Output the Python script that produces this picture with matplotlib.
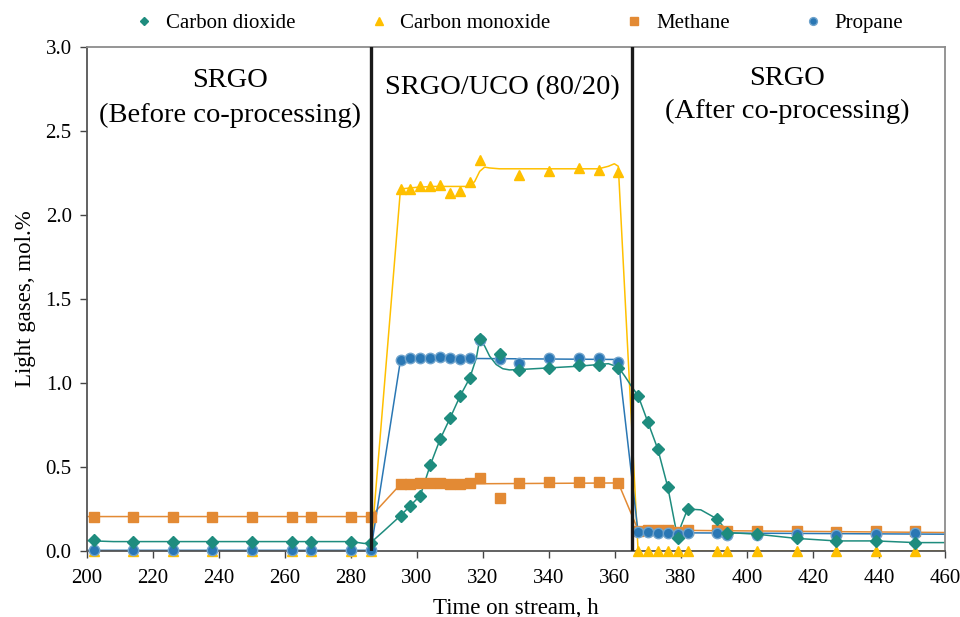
import numpy as np
import matplotlib
matplotlib.use("Agg")
import matplotlib.pyplot as plt

plt.rcParams['font.family'] = ['Liberation Serif', 'DejaVu Serif']

# sampling times (h)
t_pts = [202, 214, 226, 238, 250, 262, 268, 280, 286,
         295, 298, 301, 304, 307, 310, 313, 316, 319, 325, 331, 340, 349, 355, 361,
         367, 370, 373, 376, 379, 382, 391, 394, 403, 415, 427, 439, 451]

co2 = [0.064, 0.055, 0.055, 0.055, 0.055, 0.055, 0.055, 0.055, 0.048,
       0.21, 0.27, 0.33, 0.51, 0.665, 0.79, 0.92, 1.03, 1.26, 1.175, 1.08, 1.09, 1.105, 1.11, 1.09,
       0.925, 0.765, 0.605, 0.38, 0.075, 0.25, 0.19, 0.11, 0.10, 0.075, 0.06, 0.06, 0.05]

co = [0.0] * 9 + \
     [2.155, 2.155, 2.17, 2.175, 2.18, 2.13, 2.14, 2.195, 2.325, np.nan, 2.24, 2.26, 2.28, 2.265, 2.255] + \
     [0.0] * 13

methane = [0.205] * 9 + \
          [0.397, 0.397, 0.403, 0.403, 0.403, 0.397, 0.397, 0.405, 0.433, 0.317, 0.405, 0.412, 0.412, 0.412, 0.405] + \
          [0.121, 0.124, 0.124, 0.124, 0.115, 0.124, 0.124, 0.12, 0.12, 0.12, 0.115, 0.12, 0.12]

propane = [0.004] * 9 + \
          [1.137, 1.146, 1.146, 1.146, 1.152, 1.146, 1.14, 1.146, 1.254, 1.14, 1.117, 1.146, 1.15, 1.146, 1.127] + \
          [0.111, 0.111, 0.108, 0.108, 0.101, 0.108, 0.108, 0.098, 0.098, 0.101, 0.095, 0.1, 0.105]

# trend lines
co2_line_t = [200, 202, 208, 280, 284, 286, 290, 295, 298, 301, 304, 307, 310, 313, 316, 318, 319, 320.5,
              322, 324, 326, 328, 331, 340, 349, 355, 358, 361, 363, 365, 367, 370, 373, 376, 379,
              380, 382, 386, 391, 393, 394, 403, 415, 427, 439, 451, 460]
co2_line_v = [0.062, 0.06, 0.056, 0.056, 0.045, 0.05, 0.12, 0.21, 0.27, 0.33, 0.51, 0.665, 0.79, 0.92, 1.03, 1.15, 1.26, 1.22,
              1.16, 1.11, 1.085, 1.078, 1.08, 1.09, 1.10, 1.11, 1.115, 1.095, 1.04, 0.98, 0.925, 0.765, 0.605, 0.38, 0.075,
              0.15, 0.25, 0.245, 0.19, 0.14, 0.11, 0.10, 0.075, 0.06, 0.06, 0.05, 0.05]

co_line_t = [200, 286, 295, 300, 305, 312, 316, 317.5, 319, 320.5, 322, 325, 355, 358, 359.8, 361, 367, 460]
co_line_v = [0.0, 0.0, 2.155, 2.165, 2.17, 2.17, 2.17, 2.2, 2.26, 2.285, 2.28, 2.275, 2.275, 2.29, 2.305, 2.29, 0.0, 0.0]

ch4_line_t = [200, 286, 295, 316, 361, 367, 460]
ch4_line_v = [0.205, 0.205, 0.397, 0.40, 0.405, 0.125, 0.11]

c3_line_t = [200, 286, 295, 298, 316, 361, 367, 382, 460]
c3_line_v = [0.004, 0.004, 1.137, 1.146, 1.146, 1.14, 0.11, 0.108, 0.10]

c_co2 = '#1E8C7E'
c_co = '#FFC000'
c_ch4 = '#E38A34'
c_c3 = '#2A77B4'

fig = plt.figure(figsize=(9.6, 6.17), dpi=100)
ax = fig.add_axes([87 / 960, 66 / 617, 858 / 960, 504 / 617])

ax.plot(co_line_t, co_line_v, color=c_co, lw=1.1)
ax.plot(ch4_line_t, ch4_line_v, color=c_ch4, lw=1.1)
ax.plot(c3_line_t, c3_line_v, color=c_c3, lw=1.1)
ax.plot(co2_line_t, co2_line_v, color=c_co2, lw=1.1)

ax.plot(t_pts, co, ls='none', marker='^', ms=7.5, color=c_co, mec=c_co, label='Carbon monoxide', clip_on=False, zorder=4)
ax.plot(t_pts, methane, ls='none', marker='s', ms=7, color=c_ch4, mec=c_ch4, label='Methane', clip_on=False, zorder=4)
ax.plot(t_pts, propane, ls='none', marker='o', ms=7.5, color=c_c3, mec='#6fa3cc', label='Propane', clip_on=False, zorder=4)
ax.plot(t_pts, co2, ls='none', marker='D', ms=6, color=c_co2, mec=c_co2, label='Carbon dioxide', clip_on=False, zorder=4)

ax.axvline(286, color='#1a1a1a', lw=2.4, zorder=5)
ax.axvline(365.2, color='#1a1a1a', lw=2.4, zorder=5)

ax.text(243.4, 2.80, 'SRGO', ha='center', va='center', fontsize=20.5)
ax.text(243.4, 2.59, '(Before co-processing)', ha='center', va='center', fontsize=20.5)
ax.text(325.8, 2.76, 'SRGO/UCO (80/20)', ha='center', va='center', fontsize=20.5)
ax.text(412.2, 2.815, 'SRGO', ha='center', va='center', fontsize=20.5)
ax.text(412.2, 2.615, '(After co-processing)', ha='center', va='center', fontsize=20.5)

ax.set_xlim(200, 460)
ax.set_ylim(0, 3.0)
ax.set_xticks(np.arange(200, 461, 20))
ax.set_yticks(np.arange(0, 3.01, 0.5))
ax.yaxis.set_major_formatter(matplotlib.ticker.FormatStrFormatter('%.1f'))
ax.tick_params(labelsize=15, length=5, width=1, color='#444444', direction='out')
ax.tick_params(axis='x', pad=8)
ax.tick_params(axis='y', pad=6)
for s in ax.spines.values():
    s.set_color('#8c8c8c')
    s.set_linewidth(1.3)
ax.spines['left'].set_color('#555555')
ax.spines['bottom'].set_color('#555555')

ax.set_xlabel('Time on stream, h', fontsize=16.5, labelpad=7)
ax.set_ylabel('Light gases, mol.%', fontsize=16.5, labelpad=7)

h, l = ax.get_legend_handles_labels()
order = [3, 0, 1, 2]
leg = fig.legend([h[i] for i in order], [l[i] for i in order], loc='center',
                 bbox_to_anchor=(0.54, 0.962), ncol=4, frameon=False, fontsize=15,
                 markerscale=0.75, handlelength=1.0, handletextpad=0.55, columnspacing=3.5)

fig.savefig('out.png', dpi=100)
